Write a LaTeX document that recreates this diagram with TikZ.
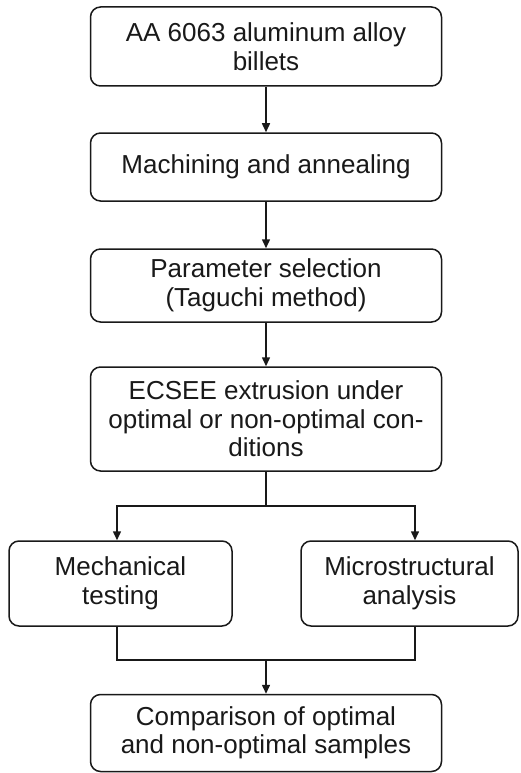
\documentclass[tikz,border=0pt]{standalone}
\usepackage{fontspec}
\setmainfont{Liberation Sans}
\usetikzlibrary{arrows.meta}
\begin{document}
\begin{tikzpicture}[x=1pt,y=-1pt,
  box/.style={draw=black!90, line width=1.5pt, rounded corners=10pt, inner sep=0pt,
    align=center, font=\fontsize{26}{28.5}\selectfont, text=black!90},
  arr/.style={draw=black!90, line width=1.5pt, -{Triangle[length=9pt,width=8pt]}},
  ln/.style={draw=black!90, line width=1.5pt}]
\useasboundingbox (0,0) rectangle (520,773);
\fill[white] (0,0) rectangle (520,773);
\node[box, minimum width=351pt, minimum height=79pt] (b1) at (266,46.5) {AA 6063 aluminum alloy\\billets};
\node[box, minimum width=351pt, minimum height=68pt] (b2) at (266,167) {Machining and annealing};
\node[box, minimum width=351pt, minimum height=73pt] (b3) at (266,285.5) {Parameter selection\\(Taguchi method)};
\node[box, minimum width=351pt, minimum height=104pt] (b4) at (266,419) {ECSEE extrusion under\\optimal or non-optimal con-\\ditions};
\node[box, minimum width=223pt, minimum height=85pt] (b5) at (120.5,583.5) {Mechanical\\testing};
\node[box, minimum width=217pt, minimum height=85pt] (b6) at (409.5,583.5) {Microstructural\\analysis};
\node[box, minimum width=351pt, minimum height=77pt] (b7) at (266,733) {Comparison of optimal\\and non-optimal samples};
\coordinate (split) at (266,506);
\coordinate (merge) at (266,660);
\draw[arr] (b1) -- (b2);
\draw[arr] (b2) -- (b3);
\draw[arr] (b3) -- (b4);
\draw[ln] (b4.south) -- (split);
\draw[arr] (split) -| ([xshift=-3.5pt]b5.north);
\draw[arr] (split) -| ([xshift=5.5pt]b6.north);
\draw[ln] ([xshift=-3.5pt]b5.south) |- (merge);
\draw[ln] ([xshift=5.5pt]b6.south) |- (merge);
\draw[arr] (merge) -- (b7.north);
\end{tikzpicture}
\end{document}
